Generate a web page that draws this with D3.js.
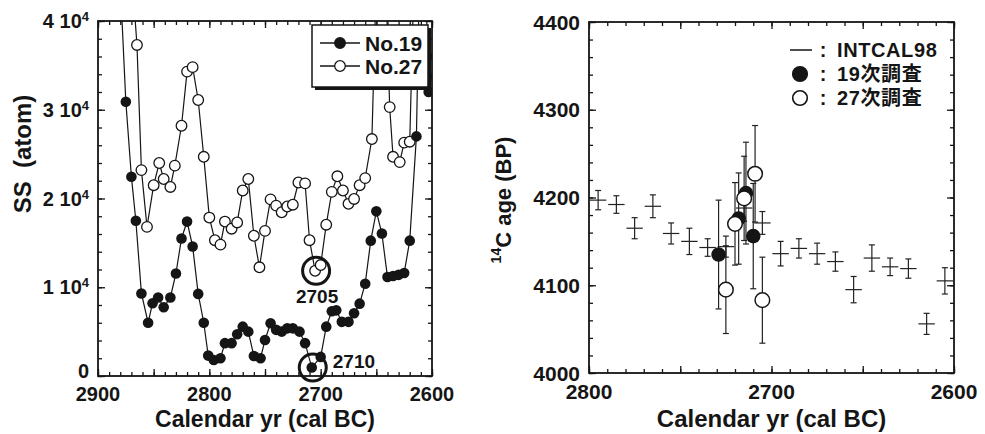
<!DOCTYPE html>
<html>
<head>
<meta charset="utf-8">
<script src="https://cdn.jsdelivr.net/npm/d3@7"></script>
<style>
  body { margin: 0; background: #fff; }
  svg text { font-family: "Liberation Sans", Arial, "Noto Sans CJK JP", sans-serif; font-weight: bold; fill: #151515; }
</style>
</head>
<body>
<svg id="chart" width="985" height="434"></svg>
<script>
// ── Data: left panel (SS, atom) ──────────────────────────────────────────────
const yr19 = [2884, 2875, 2870, 2866, 2861, 2855, 2851, 2846, 2841, 2835, 2830, 2825, 2820, 2815, 2810, 2805,
              2801, 2796, 2790, 2786, 2780, 2775, 2770, 2765, 2760, 2754, 2750, 2745, 2740, 2735, 2730, 2725,
              2719, 2714, 2708, 2700, 2695, 2690, 2686, 2681, 2675, 2670, 2665, 2660, 2655, 2650, 2645, 2640,
              2635, 2630, 2625, 2620, 2614, 2609, 2603, 2597];
const ss19 = [55000, 30900, 22450, 17500, 9300, 6000, 8200, 8850, 7750, 8850, 11550, 15500, 17400, 14600, 9250, 6000,
              2300, 1800, 2000, 3700, 3700, 4700, 5560, 5000, 2250, 2000, 4060, 5940, 5200, 5000, 5370, 5370,
              5000, 3700, 950, 2150, 5560, 7300, 7400, 6100, 6100, 7070, 8150, 10400, 15250, 18550, 16050, 11150,
              11270, 11400, 11600, 15250, 27000, 60000, 32000, 36000];
const yr27 = [2870, 2865, 2861, 2856, 2850, 2845, 2841, 2835, 2831, 2825, 2820, 2815, 2810, 2805, 2800, 2795,
              2790, 2786, 2780, 2775, 2770, 2765, 2760, 2755, 2750, 2745, 2740, 2735, 2730, 2725, 2720, 2714,
              2710, 2705, 2700, 2695, 2690, 2685, 2680, 2675, 2670, 2665, 2660, 2654, 2646, 2638, 2635, 2629,
              2625, 2620, 2612];
const ss27 = [46000, 37300, 23200, 16800, 21500, 24000, 22200, 21300, 23700, 28200, 34300, 34800, 31100, 24700, 17850, 15300,
              14800, 17400, 16600, 17300, 20900, 22200, 15800, 12250, 16350, 19900, 19200, 18450, 19100, 19300, 21800, 21700,
              15300, 11850, 12500, 17050, 20750, 22500, 20900, 19400, 19950, 21500, 22300, 26700, 63000, 30300, 24700, 24100,
              26300, 26400, 65000];
const ssTicks = [0, 10000, 20000, 30000, 40000];
const calTicksL = [2900, 2800, 2700, 2600];

// ── Data: right panel (14C age) ───────────────────────────────────────────────
const intcalYr  = [2795, 2785, 2775, 2765, 2755, 2745, 2735, 2725, 2715, 2705,
                   2695, 2685, 2675, 2665, 2655, 2645, 2635, 2625, 2615, 2605];
const intcalAge = [4197, 4192, 4165, 4190, 4159, 4150, 4143, 4144, 4188, 4171,
                   4136, 4142, 4136, 4127, 4095, 4131, 4121, 4119, 4056, 4105];
const intcalErr = [11, 10, 12, 13, 12, 15, 10, 12, 15, 13, 14, 11, 12, 11, 15, 15, 10, 11, 12, 15];
const intcalYrErr = 4.5;
const s19Yr  = [2729, 2718, 2714, 2710];
const s19Age = [4135, 4176, 4205, 4156];
const s19Err = [62, 52, 58, 60];
const s27Yr  = [2725, 2720, 2715, 2709, 2705];
const s27Age = [4095, 4170, 4199, 4227, 4083];
const s27Err = [50, 47, 48, 55, 49];
const ageTicks = [4000, 4100, 4200, 4300, 4400];
const calTicksR = [2800, 2700, 2600];

// ── Setup ─────────────────────────────────────────────────────────────────────
const INK = "#151515";
const svg = d3.select("#chart");

const xL = d3.scaleLinear().domain([2900, 2600]).range([98, 432]);
const yL = d3.scaleLinear().domain([0, 40000]).range([376, 21]);
const xR = d3.scaleLinear().domain([2800, 2600]).range([589, 954]);
const yR = d3.scaleLinear().domain([4000, 4400]).range([373, 22]);

// inward ticks on all four sides + frame
function frame(x, y, xMinor, xMajor, yMinor, yMajor) {
  const [x0, x1] = x.range(), [y0, y1] = y.range();
  const g = svg.append("g");
  [[xMinor, 4], [xMajor, 7]].forEach(([vals, len]) => {
    g.append("g").attr("transform", `translate(0,${y0})`)
      .call(d3.axisBottom(x).tickValues(vals).tickSize(-len).tickFormat(""));
    g.append("g").attr("transform", `translate(0,${y1})`)
      .call(d3.axisTop(x).tickValues(vals).tickSize(-len).tickFormat(""));
  });
  [[yMinor, 4], [yMajor, 7]].forEach(([vals, len]) => {
    g.append("g").attr("transform", `translate(${x0},0)`)
      .call(d3.axisLeft(y).tickValues(vals).tickSize(-len).tickFormat(""));
    g.append("g").attr("transform", `translate(${x1},0)`)
      .call(d3.axisRight(y).tickValues(vals).tickSize(-len).tickFormat(""));
  });
  g.selectAll(".domain").remove();
  g.selectAll(".tick line").attr("stroke", INK).attr("stroke-width", 1.3);
  g.append("rect").attr("x", x0).attr("y", y1).attr("width", x1 - x0).attr("height", y0 - y1)
    .attr("fill", "none").attr("stroke", INK).attr("stroke-width", 1.8);
}

// ── Left panel ───────────────────────────────────────────────────────────────
svg.append("clipPath").attr("id", "clipL").append("rect")
  .attr("x", xL.range()[0]).attr("y", yL.range()[1])
  .attr("width", xL.range()[1] - xL.range()[0]).attr("height", yL.range()[0] - yL.range()[1]);

const plotL = svg.append("g").attr("clip-path", "url(#clipL)");
const line = d3.line().x(d => xL(d[0])).y(d => yL(d[1]));
const pts19 = yr19.map((d, i) => [d, ss19[i]]);
const pts27 = yr27.map((d, i) => [d, ss27[i]]);

plotL.append("path").datum(pts19).attr("d", line).attr("fill", "none").attr("stroke", INK).attr("stroke-width", 1.2);
plotL.append("path").datum(pts27).attr("d", line).attr("fill", "none").attr("stroke", INK).attr("stroke-width", 1.2);
plotL.selectAll(".p27").data(pts27).join("circle")
  .attr("cx", d => xL(d[0])).attr("cy", d => yL(d[1])).attr("r", 5.3)
  .attr("fill", "#fff").attr("stroke", INK).attr("stroke-width", 1.3);
plotL.selectAll(".p19").data(pts19).join("circle")
  .attr("cx", d => xL(d[0])).attr("cy", d => yL(d[1])).attr("r", 5.3)
  .attr("fill", INK);

frame(xL, yL, d3.range(2600, 2901, 10), d3.range(2600, 2901, 50), d3.range(0, 40001, 2000), ssTicks);

// highlighted samples
const mark27 = pts27[yr27.indexOf(2705)], mark19 = pts19[yr19.indexOf(2708)];
[mark27, mark19].forEach(d => {
  svg.append("circle").attr("cx", xL(d[0]) + 1).attr("cy", yL(d[1])).attr("r", 13.5)
    .attr("fill", "none").attr("stroke", INK).attr("stroke-width", 3);
});
svg.append("text").attr("x", xL(mark27[0]) + 2).attr("y", yL(mark27[1]) + 32)
  .attr("text-anchor", "middle").style("font-size", "19px").text("2705");
svg.append("text").attr("x", xL(mark19[0]) + 21).attr("y", yL(mark19[1]) + 0)
  .style("font-size", "19px").text("2710");

// tick labels
svg.selectAll(".ylabL").data(ssTicks).join("text")
  .attr("x", 89).attr("y", d => yL(d)).attr("dy", d => d === 0 ? "0.1em" : "0.36em").attr("text-anchor", "end")
  .style("font-size", "20px")
  .each(function (d) {
    const t = d3.select(this);
    if (d === 0) { t.text("0"); return; }
    t.append("tspan").text(`${d / 10000} 10`);
    t.append("tspan").attr("dy", "-0.55em").style("font-size", "13px").text("4");
  });
svg.selectAll(".xlabL").data(calTicksL).join("text")
  .attr("x", d => xL(d)).attr("y", 401).attr("text-anchor", "middle")
  .style("font-size", "20px").text(d => d);

svg.append("text").attr("transform", "translate(31,154) rotate(-90)")
  .attr("text-anchor", "middle").style("font-size", "24px").attr("xml:space", "preserve").text("SS  (atom)");
svg.append("text").attr("x", xL(2750)).attr("y", 427).attr("text-anchor", "middle")
  .style("font-size", "23px").text("Calendar yr (cal BC)");

// legend
const lg = svg.append("g").attr("transform", "translate(312,25)");
lg.append("rect").attr("x", 3).attr("y", 3).attr("width", 116).attr("height", 62).attr("fill", INK);
lg.append("rect").attr("width", 116).attr("height", 62).attr("fill", "#fff").attr("stroke", INK).attr("stroke-width", 1.5);
[["No.19", INK], ["No.27", "#fff"]].forEach(([label, fill], i) => {
  const row = lg.append("g").attr("transform", `translate(0,${18 + i * 23})`);
  row.append("line").attr("x1", 8).attr("x2", 48).attr("stroke", INK).attr("stroke-width", 1.3);
  row.append("circle").attr("cx", 28).attr("r", 5.3).attr("fill", fill).attr("stroke", INK).attr("stroke-width", 1.3);
  row.append("text").attr("x", 53).attr("y", 8).style("font-size", "21px").text(label);
});

// ── Right panel ──────────────────────────────────────────────────────────────
const plotR = svg.append("g");
const cap = 3;
function errBar(g, x, yLo, yHi) {
  g.append("line").attr("x1", x).attr("x2", x).attr("y1", yLo).attr("y2", yHi);
  g.append("line").attr("x1", x - cap).attr("x2", x + cap).attr("y1", yLo).attr("y2", yLo);
  g.append("line").attr("x1", x - cap).attr("x2", x + cap).attr("y1", yHi).attr("y2", yHi);
}
const crossG = plotR.append("g").attr("stroke", "#222").attr("stroke-width", 1.2);
intcalYr.forEach((yr, i) => {
  errBar(crossG, xR(yr), yR(intcalAge[i] - intcalErr[i]), yR(intcalAge[i] + intcalErr[i]));
  crossG.append("line").attr("x1", xR(yr + intcalYrErr)).attr("x2", xR(yr - intcalYrErr))
    .attr("y1", yR(intcalAge[i])).attr("y2", yR(intcalAge[i]));
});
const sampG = plotR.append("g").attr("stroke", "#222").attr("stroke-width", 1.2);
s19Yr.forEach((yr, i) => errBar(sampG, xR(yr), yR(s19Age[i] - s19Err[i]), yR(s19Age[i] + s19Err[i])));
s27Yr.forEach((yr, i) => errBar(sampG, xR(yr), yR(s27Age[i] - s27Err[i]), yR(s27Age[i] + s27Err[i])));
plotR.selectAll(".s19").data(s19Yr).join("circle")
  .attr("cx", d => xR(d)).attr("cy", (d, i) => yR(s19Age[i])).attr("r", 7.3).attr("fill", INK);
plotR.selectAll(".s27").data(s27Yr).join("circle")
  .attr("cx", d => xR(d)).attr("cy", (d, i) => yR(s27Age[i])).attr("r", 7.3)
  .attr("fill", "#fff").attr("stroke", INK).attr("stroke-width", 1.5);

frame(xR, yR, d3.range(2600, 2801, 10), d3.range(2600, 2801, 50), d3.range(4000, 4401, 20), ageTicks);

svg.selectAll(".ylabR").data(ageTicks).join("text")
  .attr("x", 580).attr("y", d => yR(d)).attr("dy", "0.36em").attr("text-anchor", "end")
  .style("font-size", "21px").text(d => d);
svg.selectAll(".xlabR").data(calTicksR).join("text")
  .attr("x", d => xR(d)).attr("y", 399).attr("text-anchor", "middle")
  .style("font-size", "21px").text(d => d);

const yt = svg.append("text").attr("transform", "translate(507,200) rotate(-90)")
  .attr("text-anchor", "middle").style("font-size", "22px");
yt.append("tspan").attr("dy", "-0.45em").style("font-size", "14px").text("14");
yt.append("tspan").attr("dy", "0.45em").text("C age (BP)");
svg.append("text").attr("x", xR(2700)).attr("y", 427).attr("text-anchor", "middle")
  .style("font-size", "24px").text("Calendar yr (cal BC)");

// legend
const lgR = svg.append("g").attr("transform", "translate(800,0)");
const rowsR = ["INTCAL98", "19次調査", "27次調査"];
rowsR.forEach((label, i) => {
  const cy = 50 + i * 24;
  if (i === 0) lgR.append("line").attr("x1", -10).attr("x2", 12).attr("y1", cy).attr("y2", cy)
    .attr("stroke", INK).attr("stroke-width", 1.5);
  else lgR.append("circle").attr("cx", 0).attr("cy", cy).attr("r", 7.3)
    .attr("fill", i === 1 ? INK : "#fff").attr("stroke", INK).attr("stroke-width", 1.6);
  lgR.append("text").attr("x", 23).attr("y", cy + 7).attr("text-anchor", "middle").style("font-size", "20px").text(":");
  lgR.append("text").attr("x", 37).attr("y", cy + 7).style("font-size", "20px").style("letter-spacing", "0.6px").text(label);
});
</script>
</body>
</html>
